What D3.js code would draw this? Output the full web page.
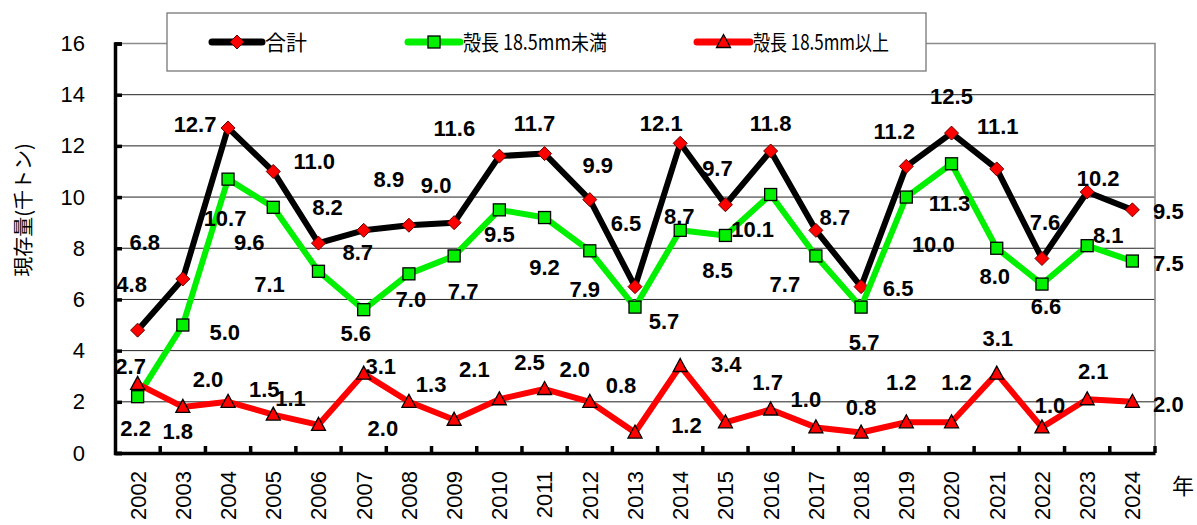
<!DOCTYPE html>
<html><head><meta charset="utf-8">
<script src="https://cdn.jsdelivr.net/npm/d3@7"></script>
<style>body{margin:0;background:#fff} svg{display:block}</style>
</head><body>
<svg id="c" width="1197" height="525"></svg>
<script>
// ---- data ----
const years = [2002,2003,2004,2005,2006,2007,2008,2009,2010,2011,2012,2013,2014,2015,2016,2017,2018,2019,2020,2021,2022,2023,2024];
const totalValues = [4.8,6.8,12.7,11.0,8.2,8.7,8.9,9.0,11.6,11.7,9.9,6.5,12.1,9.7,11.8,8.7,6.5,11.2,12.5,11.1,7.6,10.2,9.5];
const smallValues = [2.2,5.0,10.7,9.6,7.1,5.6,7.0,7.7,9.5,9.2,7.9,5.7,8.7,8.5,10.1,7.7,5.7,10.0,11.3,8.0,6.6,8.1,7.5];
const largeValues = [2.7,1.8,2.0,1.5,1.1,3.1,2.0,1.3,2.1,2.5,2.0,0.8,3.4,1.2,1.7,1.0,0.8,1.2,1.2,3.1,1.0,2.1,2.0];
const yTicks = [0,2,4,6,8,10,12,14,16];
const seriesNames = ["合計","殻長 18.5mm未満","殻長 18.5mm以上"];
const yTitle = "現存量(千トン)";
const xTitle = "年";

// ---- layout: data-label offsets in px relative to each point ----
const totalLabelOffsets = [[-6,-46],[-38,-37],[-33,-4],[41,-10],[9,-36],[-6,22],[-20,-46],[-18,-38],[-45,-28],[-10,-30],[8,-35],[-9,-64],[-19,-20],[-8,-37],[0,-28],[19,-13],[37,1],[-12,-35],[0,-37],[1,-43],[3,-36],[11,-14],[36,1]];
const smallLabelOffsets = [[-2,31],[42,7],[-3,39],[-24,35],[-49,13],[-8,23],[2,25],[9,35],[0,24],[0,50],[-5,38],[29,14],[-1,-14],[-8,35],[-18,35],[-31,28],[3,35],[27,47],[-2,39],[-2,28],[4,22],[21,-11],[36,2]];
const largeLabelOffsets = [[-7,-18],[-5,24],[-20,-23],[-9,-26],[-28,-27],[17,-8],[-26,26],[-23,-36],[-25,-30],[-15,-27],[-15,-33],[-14,-47],[46,-2],[-39,3],[-3,-27],[-10,-28],[0,-25],[-5,-40],[5,-40],[1,-36],[8,-22],[6,-28],[36,2]];

const W = 1197, H = 525;
const m = {left:115, right:1155, top:43.5, bottom:453};
const svg = d3.select("#c");

const x = d3.scaleBand().domain(years).range([m.left, m.right]).padding(0);
const cx = d => x(d) + x.bandwidth()/2;
const y = d3.scaleLinear().domain([0,16]).range([m.bottom, m.top]);

const latin = "'Liberation Sans', Arial, sans-serif";
const cjk = "'Noto Sans CJK JP', sans-serif";

// gridlines
svg.append("g").selectAll("line").data(yTicks.filter(t => t>0 && t<16)).join("line")
  .attr("x1", m.left).attr("x2", m.right)
  .attr("y1", d => y(d)).attr("y2", d => y(d))
  .attr("stroke", "#222").attr("stroke-width", 1);

// plot frame top/right (gray)
svg.append("path")
  .attr("d", `M${m.left},${y(16)}H${m.right}V${m.bottom}`)
  .attr("fill","none").attr("stroke","#8c8c8c").attr("stroke-width",1.6);

// y axis
const yAxis = d3.axisLeft(y).tickValues(yTicks).tickSize(-7).tickPadding(30).tickFormat(d3.format("d"));
const gy = svg.append("g").attr("transform", `translate(${m.left},0)`).call(yAxis);
gy.select(".domain").attr("stroke","#000").attr("stroke-width",3.5);
gy.selectAll(".tick line").attr("stroke","#000").attr("stroke-width",3.5);
gy.selectAll(".tick text").attr("font-family", latin).attr("font-size", 22).attr("fill","#000");

// x axis
const xAxis = d3.axisBottom(x).tickSize(0).tickPadding(0);
const gx = svg.append("g").attr("transform", `translate(0,${m.bottom})`).call(xAxis);
gx.select(".domain").attr("stroke","#000").attr("stroke-width",3.5);
gx.selectAll(".tick text")
  .attr("font-family", latin).attr("font-size", 22).attr("fill","#000")
  .attr("text-anchor","end")
  .attr("transform","rotate(-90)")
  .attr("x", -18).attr("y", 0).attr("dy","0.36em");
// inner tick marks at category boundaries
const boundaries = years.slice(1).map(yr => x(yr)).concat([m.right]);
svg.append("g").selectAll("line").data(boundaries).join("line")
  .attr("x1", d=>d).attr("x2", d=>d)
  .attr("y1", m.bottom).attr("y2", m.bottom-7)
  .attr("stroke","#000").attr("stroke-width",3.5);

// axis titles
svg.append("text").text(yTitle)
  .attr("transform", `translate(24,210) rotate(-90)`)
  .attr("text-anchor","middle").attr("dy","0.35em")
  .attr("font-family", cjk).attr("font-size", 20).attr("fill","#000");
svg.append("text").text(xTitle)
  .attr("x", 1183).attr("y", 486).attr("text-anchor","middle").attr("dy","0.35em")
  .attr("font-family", cjk).attr("font-size", 22).attr("fill","#000");

// series
const series = [
  {name: seriesNames[0], values: totalValues, color:"#000", marker:"diamond", offsets: totalLabelOffsets},
  {name: seriesNames[1], values: smallValues, color:"#00f000", marker:"square", offsets: smallLabelOffsets},
  {name: seriesNames[2], values: largeValues, color:"#ff0000", marker:"triangle", offsets: largeLabelOffsets}
];

function drawMarker(sel, type) {
  if (type === "diamond") {
    sel.append("path").attr("d", "M0,-7L7,0L0,7L-7,0Z")
      .attr("fill","#ff0000").attr("stroke","#600").attr("stroke-width",1);
  } else if (type === "square") {
    sel.append("rect").attr("x",-6).attr("y",-6).attr("width",12).attr("height",12)
      .attr("fill","#00f000").attr("stroke","#000").attr("stroke-width",1.3);
  } else {
    sel.append("path").attr("d", "M0,-7.5L7,5.5L-7,5.5Z")
      .attr("fill","#ff0000").attr("stroke","#000").attr("stroke-width",1.3);
  }
}

const line = d3.line().x((d,i) => cx(years[i])).y(d => y(d));

series.forEach(s => {
  svg.append("path").datum(s.values).attr("d", line)
    .attr("fill","none").attr("stroke", s.color).attr("stroke-width", 6)
    .attr("stroke-linejoin","round").attr("stroke-linecap","round");
  svg.append("g").selectAll("g").data(s.values).join("g")
    .attr("transform", (d,i) => `translate(${cx(years[i])},${y(d)})`)
    .each(function(){ drawMarker(d3.select(this), s.marker); });
});

// data labels
series.forEach(s => {
  svg.append("g").selectAll("text").data(s.values).join("text")
    .attr("x", (d,i) => cx(years[i]) + s.offsets[i][0])
    .attr("y", (d,i) => y(d) + s.offsets[i][1])
    .attr("dy","0.36em").attr("text-anchor","middle")
    .attr("font-family", latin).attr("font-weight","bold").attr("font-size", 22).attr("fill","#000")
    .text(d => d3.format(".1f")(d));
});

// legend
const lg = svg.append("g");
lg.append("rect").attr("x",167).attr("y",13).attr("width",759).attr("height",58)
  .attr("fill","#fff").attr("stroke","#777").attr("stroke-width",1.3);
const legendItems = [
  {s: series[0], x0: 212, x1: 262, tx: 265, len: null},
  {s: series[1], x0: 408, x1: 460, tx: 463, len: 144},
  {s: series[2], x0: 697, x1: 750, tx: 753, len: 136}
];
const ly = 42;
legendItems.forEach(it => {
  lg.append("line").attr("x1", it.x0).attr("x2", it.x1).attr("y1", ly).attr("y2", ly)
    .attr("stroke", it.s.color).attr("stroke-width", 7).attr("stroke-linecap","round");
  const g = lg.append("g").attr("transform", `translate(${(it.x0+it.x1)/2},${ly})`);
  drawMarker(g, it.s.marker);
  const t = lg.append("text").text(it.s.name).attr("x", it.tx).attr("y", ly).attr("dy","0.36em")
    .attr("font-family", cjk).attr("font-size", 21).attr("fill","#000");
  if (it.len) t.attr("textLength", it.len).attr("lengthAdjust", "spacingAndGlyphs");
});
</script>
</body></html>
